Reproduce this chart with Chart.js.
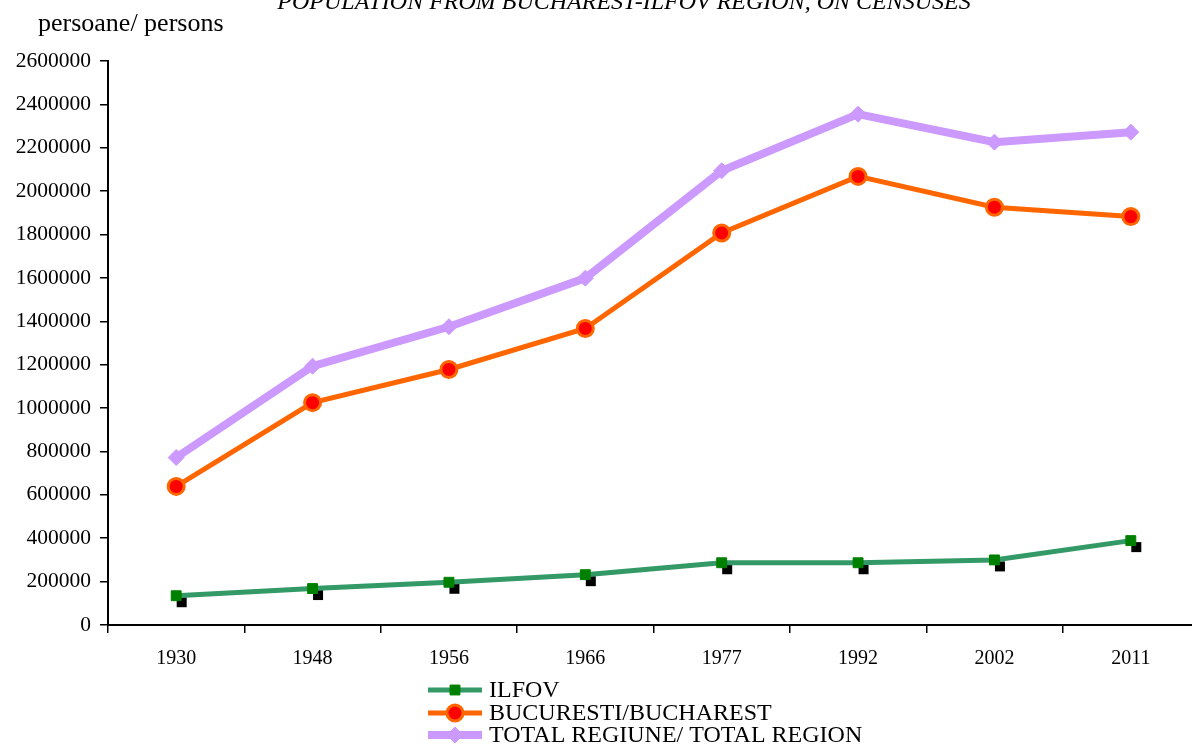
<!DOCTYPE html>
<html>
<head>
<meta charset="utf-8">
<script src="https://cdn.jsdelivr.net/npm/chart.js@4"></script>
<style>
    html, body { margin: 0; padding: 0; background: #fff; overflow: hidden; }
    #wrap { position: absolute; left: 0; top: 0; width: 1192px; height: 744px; overflow: hidden; }
    #popChart { position: absolute; left: 0; top: 0; }
</style>
</head>
<body>
<div id="wrap"><canvas id="popChart" width="1210" height="744"></canvas></div>
<script>
// Census years and population per series
const years = ['1930', '1948', '1956', '1966', '1977', '1992', '2002', '2011'];
const ilfov = [135000, 168000, 197000, 232000, 287000, 287000, 300000, 389000];
const bucuresti = [639000, 1025000, 1178000, 1367000, 1807000, 2068000, 1926000, 1883000];
const totalRegion = [772000, 1193000, 1375000, 1599000, 2094000, 2355000, 2226000, 2272000];

const seriesLabels = ['ILFOV', 'BUCURESTI/BUCHAREST', 'TOTAL REGIUNE/ TOTAL REGION'];
const yMin = 0;
const yMax = 2600000;
const yStep = 200000;

const titleText = 'POPULATION FROM BUCHAREST-ILFOV REGION, ON CENSUSES';
const unitText = 'persoane/ persons';

const serif = '"Liberation Serif", "Times New Roman", serif';

// black offset squares behind the ILFOV markers
const markerShadow = {
    id: 'markerShadow',
    beforeDatasetsDraw(chart) {
        const ctx = chart.ctx;
        const meta = chart.getDatasetMeta(0);
        ctx.save();
        ctx.fillStyle = '#000000';
        meta.data.forEach(pt => {
            ctx.fillRect(pt.x + 0.5, pt.y + 1.5, 10, 10);
        });
        ctx.restore();
    }
};

// title, unit label and legend drawn as text on the canvas
const extraText = {
    id: 'extraText',
    afterDraw(chart) {
        const ctx = chart.ctx;
        ctx.save();
        ctx.fillStyle = '#000';
        ctx.font = 'italic 24px ' + serif;
        ctx.textAlign = 'center';
        ctx.textBaseline = 'alphabetic';
        ctx.fillText(titleText, 624, 9);

        ctx.font = '26px ' + serif;
        ctx.textAlign = 'left';
        ctx.textBaseline = 'middle';
        ctx.fillText(unitText, 38, 24);

        const rows = [690, 713, 735];
        chart.data.datasets.forEach((ds, i) => {
            const y = rows[i];
            ctx.strokeStyle = ds.borderColor;
            ctx.lineWidth = ds.borderWidth;
            ctx.beginPath();
            ctx.moveTo(428, y);
            ctx.lineTo(482, y);
            ctx.stroke();

            // drawPoint fills and strokes with the current ctx styles
            ctx.fillStyle = ds.pointBackgroundColor;
            ctx.strokeStyle = ds.pointBorderColor;
            ctx.lineWidth = ds.pointBorderWidth;
            Chart.helpers.drawPoint(ctx, {
                pointStyle: ds.pointStyle,
                rotation: 0,
                radius: ds.pointRadius,
                borderWidth: ds.pointBorderWidth
            }, 455, y);

            ctx.fillStyle = '#000';
            ctx.font = '24px ' + serif;
            ctx.fillText(ds.label, 489, y + 1);
        });
        ctx.restore();
    }
};

function initializeChart() {
    const ctx = document.getElementById('popChart');
    new Chart(ctx, {
        type: 'line',
        data: {
            labels: years,
            datasets: [
                {
                    label: seriesLabels[0],
                    data: ilfov,
                    borderColor: '#339966',
                    borderWidth: 5,
                    pointStyle: 'rect',
                    pointRadius: 7,
                    pointBackgroundColor: '#008000',
                    pointBorderColor: '#008000',
                    pointBorderWidth: 1,
                    tension: 0
                },
                {
                    label: seriesLabels[1],
                    data: bucuresti,
                    borderColor: '#FF6600',
                    borderWidth: 5,
                    pointStyle: 'circle',
                    pointRadius: 8,
                    pointBackgroundColor: '#FF0000',
                    pointBorderColor: '#FF6600',
                    pointBorderWidth: 3,
                    tension: 0
                },
                {
                    label: seriesLabels[2],
                    data: totalRegion,
                    borderColor: '#CC99FF',
                    borderWidth: 8,
                    pointStyle: 'rectRot',
                    pointRadius: 8,
                    pointBackgroundColor: '#CC99FF',
                    pointBorderColor: '#CC99FF',
                    pointBorderWidth: 1,
                    tension: 0
                }
            ]
        },
        options: {
            responsive: false,
            animation: false,
            events: [],
            layout: { padding: { top: 61, right: 6, left: 0, bottom: 0 } },
            plugins: {
                legend: { display: false },
                title: { display: false },
                tooltip: { enabled: false }
            },
            scales: {
                x: {
                    offset: true,
                    afterFit: s => { s.height = 119; },
                    grid: {
                        offset: true,
                        drawOnChartArea: false,
                        drawTicks: true,
                        tickLength: 8,
                        color: '#000',
                        lineWidth: 1.5
                    },
                    border: { display: true, color: '#000', width: 2 },
                    ticks: {
                        color: '#000',
                        padding: 14,
                        maxRotation: 0,
                        font: { family: serif, size: 20 }
                    }
                },
                y: {
                    min: yMin,
                    max: yMax,
                    afterFit: s => { s.width = 108; },
                    grid: {
                        drawOnChartArea: false,
                        drawTicks: true,
                        tickLength: 8,
                        color: '#000',
                        lineWidth: 1.5
                    },
                    border: { display: true, color: '#000', width: 2 },
                    ticks: {
                        stepSize: yStep,
                        color: '#000',
                        padding: 9,
                        font: { family: serif, size: 21.5 },
                        callback: v => String(v)
                    }
                }
            }
        },
        plugins: [markerShadow, extraText]
    });
}

document.addEventListener('DOMContentLoaded', function() {
    initializeChart();
});
</script>
</body>
</html>
